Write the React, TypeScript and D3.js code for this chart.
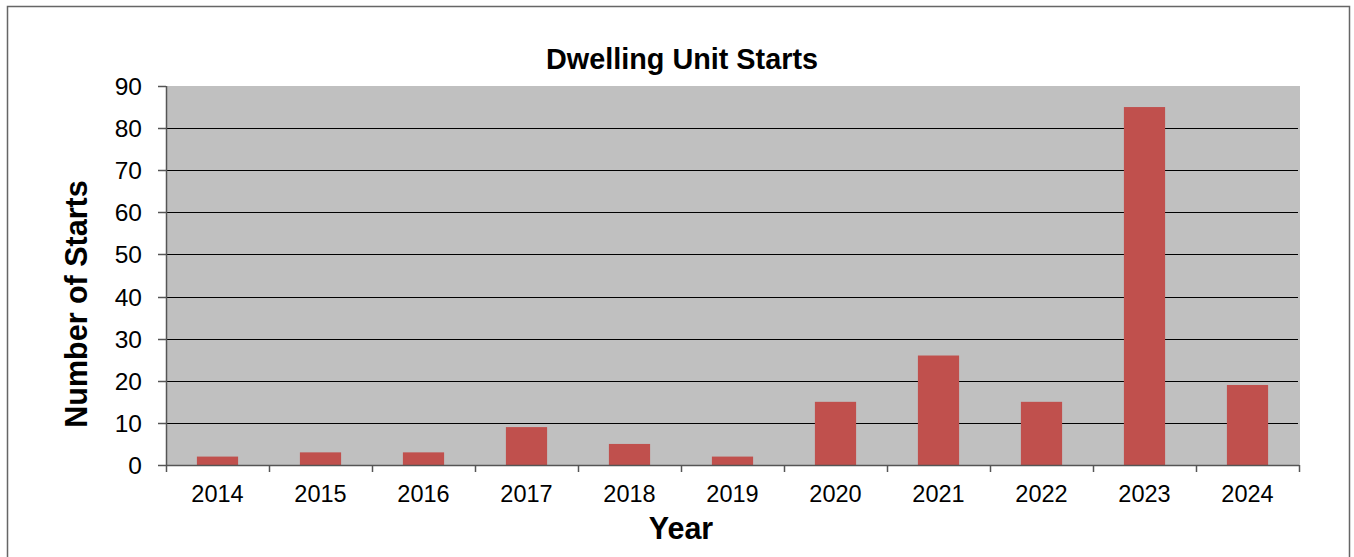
import React from "react";
import * as d3 from "d3";

const years = ["2014", "2015", "2016", "2017", "2018", "2019", "2020", "2021", "2022", "2023", "2024"];
const starts = [2, 3, 3, 9, 5, 2, 15, 26, 15, 85, 19];
const yTicks = [0, 10, 20, 30, 40, 50, 60, 70, 80, 90];

const W = 1354, H = 557;
const M = { left: 166, right: 1299, top: 86, bottom: 465 };

export default function App() {
  const x = d3.scaleBand<string>().domain(years).range([M.left, M.right]).paddingInner(0).paddingOuter(0);
  const y = d3.scaleLinear().domain([0, 90]).range([M.bottom, M.top]);
  const bw = x.bandwidth() * 0.4;
  const font = "Liberation Sans, Arial, sans-serif";
  return (
    <svg width={W} height={H} style={{ position: "absolute", left: 0, top: 0 }}>
      <rect x={0} y={0} width={W} height={H} fill="#fff" />
      <path d={`M7.5,${H} V6.5 H1349.5 V${H}`} fill="none" stroke="#666" strokeWidth={1.5} />
      <text x={682} y={69} textAnchor="middle" fontFamily={font} fontWeight="bold" fontSize={28.8}>Dwelling Unit Starts</text>
      <rect x={M.left} y={M.top} width={M.right - M.left + 1} height={M.bottom - M.top} fill="#C0C0C0" />
      {yTicks.filter((t) => t > 0 && t < 90).map((t) => (
        <line key={t} x1={M.left} x2={M.right - 1} y1={Math.round(y(t)) + 0.5} y2={Math.round(y(t)) + 0.5} stroke="#000" strokeWidth={1} />
      ))}
      {years.map((yr, i) => (
        <rect key={yr} x={(x(yr) as number) + (x.bandwidth() - bw) / 2} y={y(starts[i])} width={bw} height={M.bottom - y(starts[i])} fill="#C0504D" />
      ))}
      <line x1={M.left + 0.5} x2={M.left + 0.5} y1={M.top} y2={M.bottom} stroke="#555" strokeWidth={1.5} />
      <line x1={M.left} x2={M.right} y1={M.bottom + 0.5} y2={M.bottom + 0.5} stroke="#555" strokeWidth={1.5} />
      {yTicks.map((t) => (
        <g key={t}>
          <line x1={M.left - 8} x2={M.left} y1={Math.round(y(t)) + 0.5} y2={Math.round(y(t)) + 0.5} stroke="#555" strokeWidth={1.5} />
          <text x={M.left - 24} y={y(t) + 9} textAnchor="end" fontFamily={font} fontSize={24.5}>{t}</text>
        </g>
      ))}
      {[...years.map((yr) => x(yr) as number), M.right].map((px, i) => (
        <line key={i} x1={px + 0.5} x2={px + 0.5} y1={M.bottom} y2={M.bottom + 7} stroke="#555" strokeWidth={1.5} />
      ))}
      {years.map((yr) => (
        <text key={yr} x={(x(yr) as number) + x.bandwidth() / 2} y={502} textAnchor="middle" fontFamily={font} fontSize={23.5}>{yr}</text>
      ))}
      <text x={681} y={539} textAnchor="middle" fontFamily={font} fontWeight="bold" fontSize={30.5}>Year</text>
      <text transform={`translate(87,304) rotate(-90)`} textAnchor="middle" fontFamily={font} fontWeight="bold" fontSize={30.5}>Number of Starts</text>
    </svg>
  );
}
